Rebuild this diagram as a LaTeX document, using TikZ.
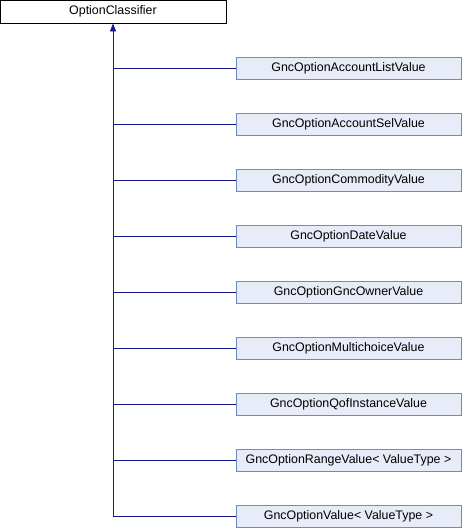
\documentclass[tikz,border=0pt]{standalone}
\usepackage{fontspec}
\setmainfont{Liberation Sans}
\usetikzlibrary{
  calc, % For coordinate calculations
  arrows.meta % For arrow tips
}

\definecolor{edgeblue}{RGB}{25,25,140}
\definecolor{derivedfill}{RGB}{232,236,248}
\definecolor{derivedline}{RGB}{112,136,200}

\begin{document}
\begin{tikzpicture}[
      x=1pt, y=-1pt,
      font=\fontsize{12.4}{14}\selectfont,
      >={Triangle[length=8pt, width=6pt]}, % Default arrow tip
      baseclass/.style={draw=black, fill=white, line width=0.9pt, minimum width=226pt, minimum height=23pt, inner sep=0pt},
      derived/.style={draw=derivedline, fill=derivedfill, line width=0.9pt, minimum width=225pt, minimum height=22pt, inner sep=0pt},
      inherit/.style={edgeblue, line width=0.9pt},
    ]

    \useasboundingbox (0,0) rectangle (462,528);

    % Größen
    \def\dx{348.5}
    \def\dy{56}

    % Basisklasse
    \node[baseclass] (cls) at (113,11.5) {OptionClassifier};

    % abgeleitete Klassen
    \foreach \i/\name in {1/GncOptionAccountListValue, 2/GncOptionAccountSelValue,
        3/GncOptionCommodityValue, 4/GncOptionDateValue, 5/GncOptionGncOwnerValue,
        6/GncOptionMultichoiceValue, 7/GncOptionQofInstanceValue,
        8/GncOptionRangeValue< ValueType >, 9/GncOptionValue< ValueType >}
    {
      \node[derived] (d\i) at (\dx, {68 + (\i-1)*\dy}) {\name};
      \draw[inherit] (d\i.west) -- (d\i.west -| cls.south);
    }

    \draw[inherit, <-] (cls.south) -- (d9.west -| cls.south);
  \end{tikzpicture}
\end{document}
